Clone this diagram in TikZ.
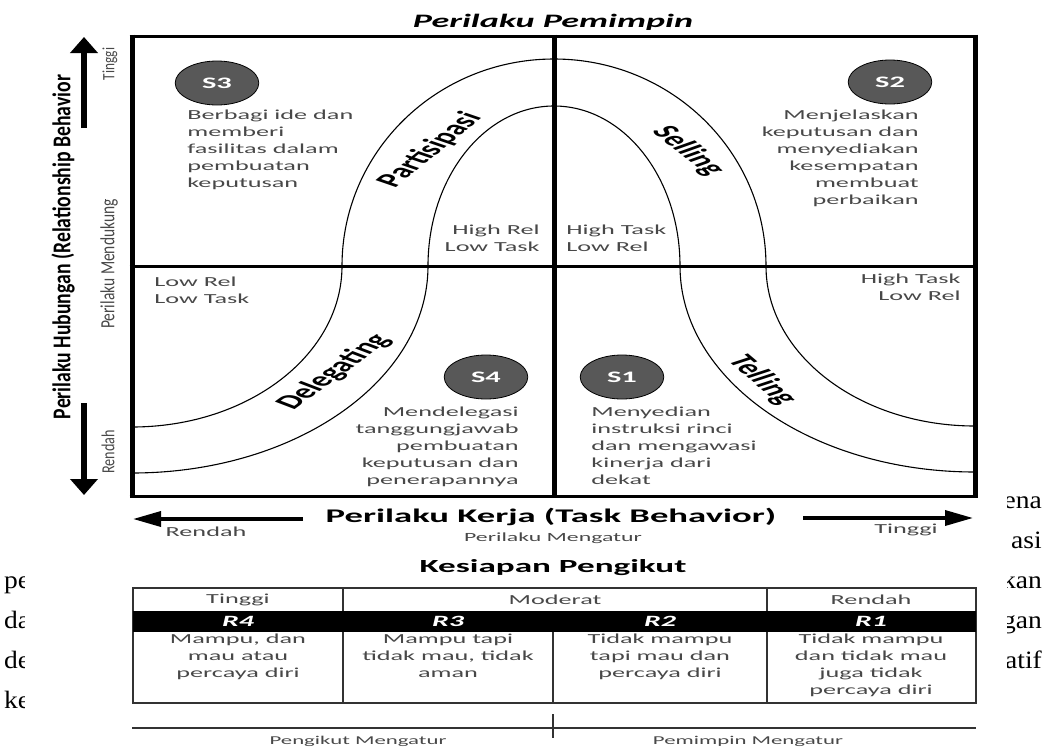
\documentclass[tikz,border=0pt]{standalone}
\usepackage{fontspec}
\setmainfont{Carlito}
\newfontfamily\pagefont{Liberation Serif}
\usetikzlibrary{arrows.meta}
\definecolor{inkgray}{RGB}{72,72,72}
\definecolor{bubblegray}{RGB}{88,88,88}
\definecolor{rulegray}{RGB}{50,50,50}

\tikzset{
  wide/.style={xscale=1.9, inner sep=0pt},
  note/.style={wide, text=inkgray, font=\fontsize{13.8}{17}\selectfont},
  bubble/.style={circle, draw=black, line width=0.8pt, fill=bubblegray,
    minimum size=44pt, inner sep=0pt, xscale=1.9, text=white,
    font=\bfseries\fontsize{16}{16}\selectfont},
  track/.style={wide, font=\bfseries\fontsize{19.8}{20}\selectfont},
  upright/.style={xscale=1.3, rotate=90, inner sep=0pt},
  rlabel/.style={wide, text=white, font=\bfseries\itshape\fontsize{15.7}{16}\selectfont},
  pagetxt/.style={xscale=1.1, inner sep=0pt, font=\pagefont\fontsize{25}{25}\selectfont}
}

\begin{document}
\begin{tikzpicture}[x=1pt, y=-1pt,
    hline/.style={line width=3pt},
    vline/.style={line width=5pt},
    curve/.style={line width=1.1pt},
    axisv/.style={line width=6pt, -{Triangle[width=27pt,length=16pt]}},
    axish/.style={line width=3.5pt, -{Triangle[width=15pt,length=28pt]}}]
  \useasboundingbox (0,0) rectangle (1058,747);

  % leader behaviour grid
  \node[wide, font=\bfseries\itshape\fontsize{19}{20}\selectfont] (ldr) at (553,22) {Perilaku Pemimpin};
  \draw[hline] (129.5,36) -- (977.5,36) (129.5,266) -- (977.5,266) (129.5,496) -- (977.5,496);
  \draw[vline] (132,34.5) -- (132,497.5) (554,34.5) -- (554,497.5) (975,34.5) -- (975,497.5);

  % the bell-shaped track
  \draw[curve] (132,427) arc[start angle=90, end angle=0, x radius=210, y radius=161]
    arc[start angle=180, end angle=360, x radius=212, y radius=207]
    arc[start angle=180, end angle=90, x radius=209, y radius=160];
  \draw[curve] (132,473) arc[start angle=90, end angle=0, x radius=296, y radius=207]
    arc[start angle=180, end angle=360, x radius=126, y radius=160]
    arc[start angle=180, end angle=90, x radius=295, y radius=206];
  \node[track, rotate=57] (part) at (430,150) {Partisipasi};
  \node[track, rotate=-56] (sell) at (688,151) {Selling};
  \node[track, rotate=54] (dele) at (334,372) {Delegating};
  \node[track, rotate=-58] (tell) at (762,380) {Telling};

  % styles
  \node[bubble] (s3) at (217,83) {S3};
  \node[bubble] (s2) at (890,82) {S2};
  \node[bubble] (s4) at (486,377) {S4};
  \node[bubble] (s1) at (622,377) {S1};
  \node[note, anchor=north west, align=left] (d3) at (187,110)
    {Berbagi ide dan\\memberi\\fasilitas dalam\\pembuatan\\keputusan};
  \node[note, anchor=north east, align=right] (d2) at (919,110)
    {Menjelaskan\\keputusan dan\\menyediakan\\kesempatan\\membuat\\perbaikan};
  \node[note, anchor=north east, align=right] (d4) at (519,407)
    {Mendelegasi\\tanggungjawab\\pembuatan\\keputusan dan\\penerapannya};
  \node[note, anchor=north west, align=left] (d1) at (591,407)
    {Menyedian\\instruksi rinci\\dan mengawasi\\kinerja dari\\dekat};

  \node[note, anchor=north east, align=right] (hrlt) at (540,225) {High Rel\\Low Task};
  \node[note, anchor=north west, align=left] (htlr) at (566,225) {High Task\\Low Rel};
  \node[note, anchor=north west, align=left] (lrlt) at (154,277) {Low Rel\\Low Task};
  \node[note, anchor=north east, align=right] (htlr2) at (961,274) {High Task\\Low Rel};

  % axes
  \draw[axisv] (84,128) -- (84,37);
  \draw[axisv] (84,403) -- (84,495);
  \node[upright, font=\bfseries\fontsize{19.7}{20}\selectfont] (relax) at (63,247)
    {Perilaku Hubungan (Relationship Behavior};
  \node[upright, text=inkgray, font=\fontsize{15.5}{16}\selectfont] (supp) at (109,264) {Perilaku Mendukung};
  \node[upright, text=inkgray, font=\fontsize{13.3}{14}\selectfont] (hiv) at (110,64) {Tinggi};
  \node[upright, text=inkgray, font=\fontsize{14.2}{15}\selectfont] (lov) at (108,452) {Rendah};

  \draw[axish] (303,519) -- (133,519);
  \draw[axish] (803,518) -- (973,518);
  \node[wide, font=\bfseries\fontsize{19.3}{20}\selectfont] (taskax) at (551,517) {Perilaku Kerja (Task Behavior)};
  \node[note] (loh) at (206,532) {Rendah};
  \node[note] (hih) at (906,530) {Tinggi};
  \node[note, font=\fontsize{12.5}{14}\selectfont] (dirx) at (553,538) {Perilaku Mengatur};

  % follower readiness
  \node[wide, font=\bfseries\fontsize{18.5}{20}\selectfont] (ready) at (553,568) {Kesiapan Pengikut};
  \draw[line width=1.6pt, rulegray] (133,588) rectangle (976,703);
  \fill (133,611) rectangle (976,632);
  \draw[line width=2.2pt, rulegray] (343,588) -- (343,611) (767,588) -- (767,611)
    (343,632) -- (343,703) (553,632) -- (553,703) (767,632) -- (767,703);
  \node[note] (hi) at (238,600) {Tinggi};
  \node[note] (mid) at (555,600) {Moderat};
  \node[note] (lo) at (871,600) {Rendah};
  \node[rlabel] (r4) at (238,621) {R4};
  \node[rlabel] (r3) at (448,621) {R3};
  \node[rlabel] (r2) at (660,621) {R2};
  \node[rlabel] (r1) at (871,621) {R1};
  \node[note, anchor=north, align=center] (c4) at (238,634) {Mampu, dan\\mau atau\\percaya diri};
  \node[note, anchor=north, align=center] (c3) at (448,634) {Mampu tapi\\tidak mau, tidak\\aman};
  \node[note, anchor=north, align=center] (c2) at (660,634) {Tidak mampu\\tapi mau dan\\percaya diri};
  \node[note, anchor=north, align=center] (c1) at (871,634) {Tidak mampu\\dan tidak mau\\juga tidak\\percaya diri};

  \draw[line width=1.2pt, rulegray] (132,728) -- (976,728) (553,714) -- (553,738);
  \node[note, font=\fontsize{12}{14}\selectfont] (fol) at (358,741) {Pengikut Mengatur};
  \node[note, font=\fontsize{12}{14}\selectfont] (lea) at (748,741) {Pemimpin Mengatur};

  % cut page text at the sides
  \begin{scope}
    \clip (0,550) rectangle (24,747);
    \node[pagetxt, anchor=base west] (pg1) at (4,588) {pe};
    \node[pagetxt, anchor=base west] (pg2) at (4,628) {da};
    \node[pagetxt, anchor=base west] (pg3) at (4,668) {de};
    \node[pagetxt, anchor=base west] (pg4) at (4,708) {ke};
  \end{scope}
  \begin{scope}
    \clip (1007,480) rectangle (1058,700);
    \node[pagetxt, anchor=base east] (pg5) at (1042,508) {ena};
    \node[pagetxt, anchor=base east] (pg6) at (1042,548) {asi};
    \node[pagetxt, anchor=base east] (pg7) at (1042,588) {kan};
    \node[pagetxt, anchor=base east] (pg8) at (1042,628) {gan};
    \node[pagetxt, anchor=base east] (pg9) at (1042,668) {atif};
  \end{scope}
\end{tikzpicture}
\end{document}
